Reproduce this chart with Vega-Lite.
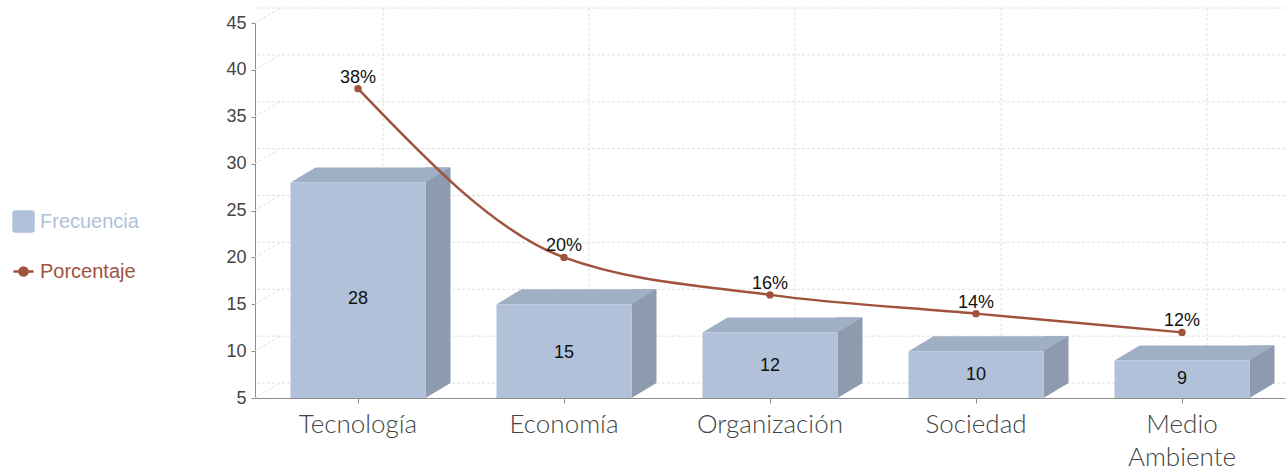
{
  "$schema": "https://vega.github.io/schema/vega-lite/v6.json",
  "width": 1030,
  "height": 375,
  "autosize": {"type": "none"},
  "padding": {"left": 255, "top": 23, "right": 1, "bottom": 72},
  "config": {"view": {"stroke": null}, "font": "Liberation Sans"},
  "datasets": {
    "temas": [
      {"Tema": "Tecnología", "Frecuencia": 28, "Porcentaje": 38, "Etiqueta": "38%"},
      {"Tema": "Economía", "Frecuencia": 15, "Porcentaje": 20, "Etiqueta": "20%"},
      {"Tema": "Organización", "Frecuencia": 12, "Porcentaje": 16, "Etiqueta": "16%"},
      {"Tema": "Sociedad", "Frecuencia": 10, "Porcentaje": 14, "Etiqueta": "14%"},
      {"Tema": "Medio Ambiente", "Frecuencia": 9, "Porcentaje": 12, "Etiqueta": "12%"}
    ],
    "rejilla": [
      {"v": 5}, {"v": 10}, {"v": 15}, {"v": 20}, {"v": 25}, {"v": 30}, {"v": 35}, {"v": 40}, {"v": 45}
    ]
  },
  "resolve": {"scale": {"y": "independent"}},
  "layer": [
    {
      "layer": [
        {
          "data": {"name": "rejilla"},
          "mark": {"type": "rule", "color": "#e0e0e0", "strokeDash": [3, 2], "strokeWidth": 1, "xOffset": 25, "yOffset": -15},
          "encoding": {
            "y": {
              "field": "v", "type": "quantitative", "title": null,
              "scale": {"domain": [5, 45], "nice": false, "zero": false},
              "axis": {
                "values": [5, 10, 15, 20, 25, 30, 35, 40, 45],
                "grid": false, "labelFontSize": 18, "labelColor": "#444444",
                "domainColor": "#8c8c8c", "tickColor": "#8c8c8c", "tickSize": 4, "labelPadding": 5
              }
            }
          }
        },
        {
          "data": {"name": "rejilla"},
          "mark": {"type": "point", "shape": "M -1 0.6 L 1 -0.6", "size": 625, "filled": false, "stroke": "#e0e0e0", "strokeDash": [3, 2], "strokeWidth": 1, "opacity": 1, "xOffset": 12.5, "yOffset": -7.5},
          "encoding": {
            "x": {"datum": "Tecnología", "type": "nominal", "bandPosition": 0},
            "y": {"field": "v", "type": "quantitative", "title": null}
          }
        },
        {
          "data": {"name": "temas"},
          "mark": {"type": "rule", "color": "#e0e0e0", "strokeDash": [3, 2], "strokeWidth": 1, "xOffset": 25, "yOffset": -15, "y2Offset": -15},
          "encoding": {
            "x": {
              "field": "Tema", "type": "nominal", "sort": null, "title": null,
              "scale": {"paddingInner": 0, "paddingOuter": 0},
              "axis": {
                "labelAngle": 0, "labelAlign": "center", "labelBaseline": "top",
                "labelFont": "Lato", "labelFontWeight": 300, "labelFontSize": 26,
                "labelColor": "#444444", "domainColor": "#8c8c8c", "tickColor": "#8c8c8c",
                "tickSize": 5, "labelPadding": 8, "grid": false, "labelLineHeight": 33,
                "labelOverlap": false, "labelFlush": false, "labelBound": false,
                "labelExpr": "datum.label == 'Medio Ambiente' ? ['Medio', 'Ambiente'] : datum.label"
              }
            },
            "y": {"datum": 45},
            "y2": {"datum": 5}
          }
        },
        {
          "data": {"name": "temas"},
          "mark": {"type": "bar", "color": "#8e9bae", "width": 25, "xOffset": 80, "yOffset": -15, "y2Offset": -15},
          "encoding": {
            "x": {"field": "Tema", "type": "nominal", "sort": null},
            "y": {"field": "Frecuencia", "type": "quantitative", "title": null},
            "y2": {"datum": 5}
          }
        },
        {
          "data": {"name": "temas"},
          "mark": {"type": "point", "shape": "M -1 -0.6 L -1 0.6 L 1 -0.6 Z", "size": 625, "filled": true, "fill": "#8e9bae", "strokeWidth": 0, "opacity": 1, "xOffset": 80, "yOffset": -7.5},
          "encoding": {
            "x": {"field": "Tema", "type": "nominal", "sort": null},
            "y": {"datum": 5}
          }
        },
        {
          "data": {"name": "temas"},
          "mark": {"type": "point", "shape": "M -1 0.09375 L 0.6875 0.09375 L 1 -0.09375 L -0.6875 -0.09375 Z", "size": 25600, "filled": true, "fill": "#a0b0c4", "strokeWidth": 0, "opacity": 1, "xOffset": 12.5, "yOffset": -7.5},
          "encoding": {
            "x": {"field": "Tema", "type": "nominal", "sort": null},
            "y": {"field": "Frecuencia", "type": "quantitative", "title": null}
          }
        },
        {
          "data": {"name": "temas"},
          "mark": {"type": "bar", "width": 135},
          "encoding": {
            "x": {"field": "Tema", "type": "nominal", "sort": null},
            "y": {"field": "Frecuencia", "type": "quantitative", "title": null},
            "y2": {"datum": 5},
            "color": {
              "datum": "Frecuencia",
              "scale": {"domain": ["Frecuencia", "Porcentaje"], "range": ["#b0c1d9", "#a0523d"]},
              "legend": {
                "title": null, "orient": "none", "legendX": -243, "legendY": 187,
                "symbolSize": 400, "labelFontSize": 20, "labelFont": "Liberation Sans",
                "rowPadding": 23, "labelOffset": 5,
                "encode": {
                  "symbols": {
                    "update": {
                      "shape": {"signal": "datum.value === 'Porcentaje' ? 'M -1 0 L 1 0 M -0.4 0 A 0.4 0.4 0 1 1 0.4 0 A 0.4 0.4 0 1 1 -0.4 0 Z' : 'M -0.8 -1 L 0.8 -1 A 0.2 0.2 0 0 1 1 -0.8 L 1 0.8 A 0.2 0.2 0 0 1 0.8 1 L -0.8 1 A 0.2 0.2 0 0 1 -1 0.8 L -1 -0.8 A 0.2 0.2 0 0 1 -0.8 -1 Z'"},
                      "fill": {"signal": "datum.value === 'Porcentaje' ? '#a0523d' : '#b0c1d9'"},
                      "stroke": {"signal": "datum.value === 'Porcentaje' ? '#a0523d' : 'transparent'"},
                      "strokeWidth": {"value": 2.5},
                      "opacity": {"value": 1}
                    }
                  },
                  "labels": {
                    "update": {
                      "fill": {"signal": "datum.value === 'Porcentaje' ? '#a0523d' : '#b0c1d9'"}
                    }
                  }
                }
              }
            }
          }
        },
        {
          "data": {"name": "temas"},
          "mark": {"type": "line", "interpolate": "monotone", "strokeWidth": 2.5},
          "encoding": {
            "x": {"field": "Tema", "type": "nominal", "sort": null},
            "y": {"field": "Porcentaje", "type": "quantitative", "title": null},
            "color": {"datum": "Porcentaje"}
          }
        },
        {
          "data": {"name": "temas"},
          "mark": {"type": "point", "filled": true, "size": 55, "opacity": 1},
          "encoding": {
            "x": {"field": "Tema", "type": "nominal", "sort": null},
            "y": {"field": "Porcentaje", "type": "quantitative", "title": null},
            "color": {"datum": "Porcentaje"}
          }
        },
        {
          "data": {"name": "temas"},
          "mark": {"type": "text", "fontSize": 18, "color": "#111111", "baseline": "bottom", "dy": -2},
          "encoding": {
            "x": {"field": "Tema", "type": "nominal", "sort": null},
            "y": {"field": "Porcentaje", "type": "quantitative", "title": null},
            "text": {"field": "Etiqueta", "type": "nominal"}
          }
        }
      ]
    },
    {
      "data": {"name": "temas"},
      "mark": {"type": "text", "fontSize": 18, "color": "#111111", "baseline": "middle"},
      "encoding": {
        "x": {"field": "Tema", "type": "nominal", "sort": null},
        "y": {
          "field": "Frecuencia", "type": "quantitative", "title": null,
          "scale": {"domain": [4.44, 93.3], "nice": false, "zero": false},
          "axis": null
        },
        "text": {"field": "Frecuencia", "type": "quantitative"}
      }
    }
  ]
}
